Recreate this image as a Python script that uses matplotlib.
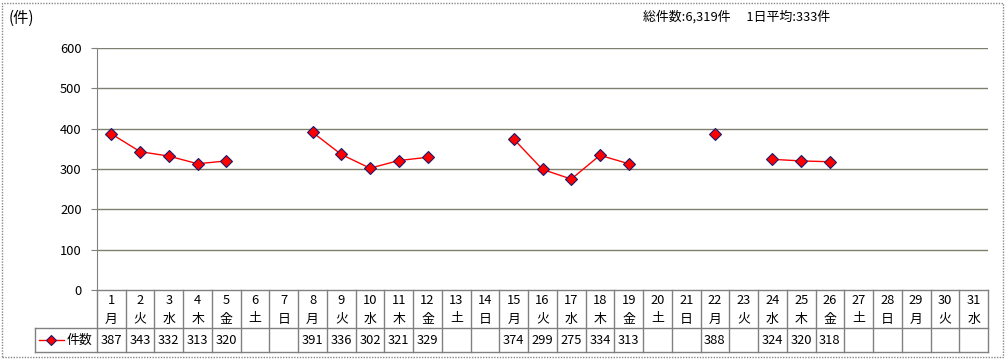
import numpy as np
import matplotlib.pyplot as plt
from matplotlib.patches import Rectangle
from matplotlib.lines import Line2D

plt.rcParams['font.family'] = ['Noto Sans CJK JP', 'DejaVu Sans']

# data
days = list(range(1, 32))
weekdays = ["月", "火", "水", "木", "金", "土", "日"] * 5
weekdays = weekdays[:31]
counts = [387, 343, 332, 313, 320, None, None,
          391, 336, 302, 321, 329, None, None,
          374, 299, 275, 334, 313, None, None,
          388, None, 324, 320, 318, None, None,
          None, None, None]
series_name = "件数"
summary = "総件数:6,319件　 1日平均:333件"
y_ticks = [0, 100, 200, 300, 400, 500, 600]

W, H = 1006, 359
fig = plt.figure(figsize=(W / 100, H / 100), dpi=100)
fs = 9.3

# outer dotted border
fig.patches.append(Rectangle((2 / W, 2 / H), 1001 / W, 354 / H, transform=fig.transFigure,
                             fill=False, edgecolor='#888888', linewidth=1, linestyle=(0, (1, 1))))

left, right, top, bottom = 97, 988, 48, 290
ax = fig.add_axes([left / W, 1 - bottom / H, (right - left) / W, (bottom - top) / H])

y = np.array([np.nan if v is None else v for v in counts], dtype=float)
ax.plot(days, y, color='#ff0000', linewidth=1, marker='D', markersize=6.5,
        markerfacecolor='#ff0000', markeredgecolor='#1a1a6e', markeredgewidth=0.8, zorder=3)

ax.set_xlim(0.5, 31.5)
ax.set_ylim(0, 600)
ax.set_yticks(y_ticks)
ax.set_yticklabels([str(t) for t in y_ticks], fontsize=fs)
ax.tick_params(axis='y', direction='out', length=4, color='#808080', pad=7)
ax.set_xticks([])
for t in y_ticks[1:]:
    ax.axhline(t, color='#7f7f6f', linewidth=1, zorder=1)
for s in ['top', 'right', 'bottom']:
    ax.spines[s].set_visible(False)
ax.spines['left'].set_color('#808080')

# data table under the axes
axh = bottom - top
r2 = -(352 - bottom) / axh
trans = ax.get_xaxis_transform()
gc = '#808080'
for i, d in enumerate(days):
    x0 = d - 0.5
    ax.add_line(Line2D([x0, x0], [0, r2], transform=trans, color=gc, linewidth=1, clip_on=False))
    ax.text(d, -(301 - bottom) / axh, str(d), transform=trans, ha='center', va='center', fontsize=fs)
    ax.text(d, -(319 - bottom) / axh, weekdays[i], transform=trans, ha='center', va='center', fontsize=fs)
    if counts[i] is not None:
        ax.text(d, -(340 - bottom) / axh, str(counts[i]), transform=trans, ha='center', va='center',
                fontsize=fs)
ax.add_line(Line2D([31.5, 31.5], [0, r2], transform=trans, color=gc, linewidth=1, clip_on=False))
ax.add_line(Line2D([0.5, 31.5], [0, 0], transform=trans, color=gc, linewidth=1, clip_on=False))

# legend cell and data row borders in figure pixels
def fl(xs, ys):
    fig.add_artist(Line2D([x / W for x in xs], [1 - v / H for v in ys], transform=fig.transFigure,
                          color=gc, linewidth=1))

fl([35, right], [328, 328])
fl([35, right], [352, 352])
fl([35, 35], [328, 352])
fig.add_artist(Line2D([39 / W, 64 / W], [1 - 340 / H] * 2, transform=fig.transFigure, color='#ff0000',
                      linewidth=1))
fig.add_artist(Line2D([51 / W], [1 - 340 / H], transform=fig.transFigure, marker='D', markersize=5.5,
                      markerfacecolor='#ff0000', markeredgecolor='#1a1a6e', markeredgewidth=0.8))
fig.text(67 / W, 1 - 340 / H, series_name, ha='left', va='center', fontsize=fs)

fig.text(9 / W, 1 - 18 / H, "(件)", ha='left', va='center', fontsize=11)
fig.text(643 / W, 1 - 17 / H, summary, ha='left', va='center', fontsize=fs)

fig.savefig("out.png", dpi=100)
